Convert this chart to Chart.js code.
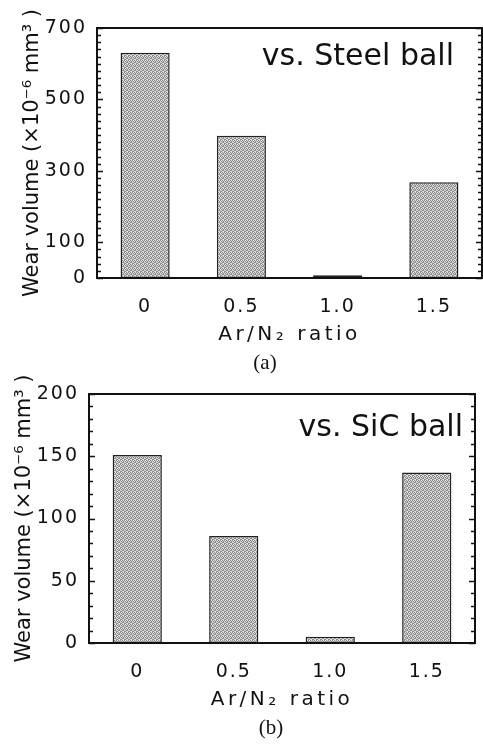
<!DOCTYPE html>
<html><head><meta charset="utf-8">
<script src="https://cdn.jsdelivr.net/npm/chart.js@4"></script>
<style>
html,body{margin:0;padding:0;background:#fff;overflow:hidden}
#wrap{position:relative;width:483px;height:744px}
canvas{position:absolute;left:0}
#c1{top:0}
#c2{top:372px}
.cap{position:absolute;font-family:"Liberation Serif","Times New Roman",serif;font-size:21px;color:#111;transform:translate(-50%,-50%);white-space:nowrap;line-height:1}
</style></head>
<body>
<div id="wrap">
<canvas id="c1" width="483" height="372"></canvas>
<canvas id="c2" width="483" height="372"></canvas>
<div class="cap" style="left:265px;top:362px">(a)</div>
<div class="cap" style="left:271px;top:727px">(b)</div>
</div>
<script>
// ---- data ----
const categories = ['0', '0.5', '1.0', '1.5'];
const steelWear = [631, 398, 8, 268];
const sicWear = [151, 86, 5, 137];
const steelLabeledTicks = [0, 100, 300, 500, 700];
const sicLabeledTicks = [0, 50, 100, 150, 200];
const yTitle = 'Wear volume (×10⁻⁶ mm³ )';
const xTitle = 'Ar/N₂ ratio';
const steelNote = 'vs. Steel ball';
const sicNote = 'vs. SiC ball';

const INK = '#111';

function makePattern() {
  const t = document.createElement('canvas');
  t.width = 4; t.height = 4;
  const c = t.getContext('2d');
  c.fillStyle = '#d6d6d6'; c.fillRect(0, 0, 4, 4);
  c.fillStyle = '#8a8a8a';
  [[0,0],[2,0],[1,1],[3,2],[0,3],[2,2],[1,3],[3,1]].forEach(([x,y]) => c.fillRect(x, y, 1, 1));
  c.fillStyle = '#ededed';
  c.fillRect(1, 0, 1, 1); c.fillRect(3, 3, 1, 1);
  return c.createPattern(t, 'repeat');
}

function spaced(fn, sp) {
  return function (...a) {
    const c = this.ctx; c.save(); c.letterSpacing = sp; fn.apply(this, a); c.restore();
  };
}

const framePlugin = {
  id: 'frame',
  afterLayout(chart) {
    const sx = chart.scales.x, sy = chart.scales.y;
    if (!sx._sp) { sx._sp = true; sx.drawLabels = spaced(sx.drawLabels, '2px'); sx.drawTitle = spaced(sx.drawTitle, '3.5px'); }
    if (!sy._sp) { sy._sp = true; sy.drawLabels = spaced(sy.drawLabels, '2px'); sy.drawTitle = spaced(sy.drawTitle, '0px'); }
  },
  afterDatasetsDraw(chart, args, opts) {
    const {ctx, chartArea: a} = chart;
    const sy = chart.scales.y;
    ctx.save();
    ctx.strokeStyle = INK;
    ctx.lineWidth = 1.3;
    sy.ticks.forEach(t => {
      const y = Math.round(sy.getPixelForValue(t.value)) + 0.5;
      const len = opts.labeled.includes(t.value) ? 6 : 4;
      ctx.beginPath();
      ctx.moveTo(a.left, y); ctx.lineTo(a.left + len, y);
      ctx.moveTo(a.right, y); ctx.lineTo(a.right - len, y);
      ctx.stroke();
    });
    ctx.lineWidth = 2;
    ctx.strokeRect(a.left, a.top, a.right - a.left, a.bottom - a.top);
    ctx.fillStyle = INK;
    ctx.letterSpacing = '0px';
    ctx.font = '30px "DejaVu Sans"';
    ctx.textAlign = 'right';
    ctx.textBaseline = 'alphabetic';
    ctx.fillText(opts.note, a.right - opts.dx, a.top + opts.dy);
    ctx.restore();
  }
};

function makeChart(id, values, max, step, labeled, geo) {
  const pattern = makePattern();
  return new Chart(document.getElementById(id), {
    type: 'bar',
    data: {
      labels: categories,
      datasets: [{
        data: values,
        backgroundColor: pattern,
        borderColor: '#222',
        borderWidth: 1.5,
        borderSkipped: false,
        barPercentage: 0.51,
        categoryPercentage: 1.0
      }]
    },
    options: {
      responsive: false,
      animation: false,
      events: [],
      layout: { padding: { top: geo.top, left: 0, right: geo.right, bottom: 0 } },
      plugins: {
        legend: { display: false },
        tooltip: { enabled: false },
        frame: { labeled: labeled, note: geo.note, dx: geo.noteDx, dy: geo.noteDy }
      },
      scales: {
        x: {
          type: 'category',
          grid: { display: false, drawTicks: false },
          border: { display: false },
          ticks: { color: INK, font: { family: 'DejaVu Sans', size: 19 }, padding: geo.xTickPad, maxRotation: 0 },
          title: { display: true, text: xTitle, color: INK, font: { family: 'DejaVu Sans', size: 20 }, padding: { top: 0, bottom: geo.xTitlePad } },
          afterFit(s) { s.height = geo.xHeight; }
        },
        y: {
          min: 0, max: max,
          grid: { display: false, drawTicks: false },
          border: { display: false },
          ticks: {
            stepSize: step, autoSkip: false, color: INK, padding: 10,
            font: { family: 'DejaVu Sans', size: 19 },
            callback: v => labeled.includes(v) ? String(v) : ''
          },
          title: { display: true, text: yTitle, color: INK, font: { family: 'DejaVu Sans', size: 21 }, padding: { top: geo.yTitlePad, bottom: 0 } },
          afterFit(s) { s.width = geo.yWidth; }
        }
      }
    },
    plugins: [framePlugin]
  });
}

makeChart('c1', steelWear, 700, 20, steelLabeledTicks, {
  top: 28, right: 1, yWidth: 97, xHeight: 94, xTickPad: 18, xTitlePad: 25.5, yTitlePad: 20.4,
  note: steelNote, noteDx: 28, noteDy: 37
});
makeChart('c2', sicWear, 200, 10, sicLabeledTicks, {
  top: 22, right: 8, yWidth: 89, xHeight: 101, xTickPad: 18, xTitlePad: 32, yTitlePad: 12.4,
  note: sicNote, noteDx: 12, noteDy: 42
});
</script>
</body></html>
